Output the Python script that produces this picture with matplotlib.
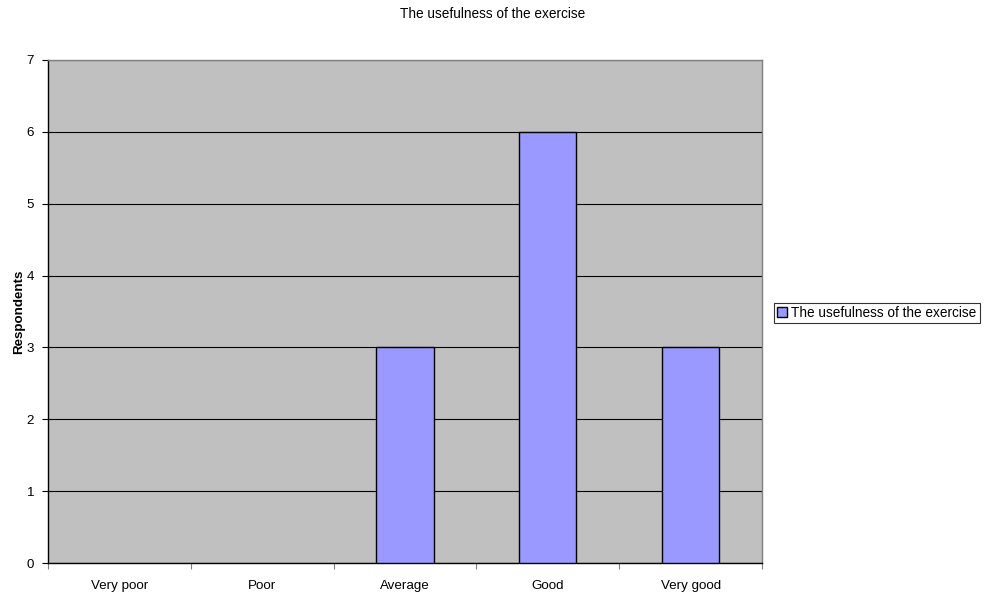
import matplotlib
matplotlib.use("Agg")
import matplotlib.pyplot as plt
import numpy as np

categories = ["Very poor", "Poor", "Average", "Good", "Very good"]
values = [0, 0, 3, 6, 3]
series_name = "The usefulness of the exercise"
title = "The usefulness of the exercise"
ylabel = "Respondents"

plt.rcParams['font.family'] = ['Liberation Sans', 'DejaVu Sans']

fig = plt.figure(figsize=(9.86, 5.94), dpi=100)
ax = fig.add_axes([48/986, 31/594, 714/986, 503/594])
ax.set_facecolor('#C0C0C0')

x = np.arange(len(categories))
bars = ax.bar(x, values, width=0.4, color='#9999FF', edgecolor='black', linewidth=1.0,
              label=series_name, zorder=3)

ax.set_xlim(-0.5, len(categories) - 0.5)
ax.set_ylim(0, 7)
ax.set_yticks(range(0, 8))
ax.yaxis.grid(True, color='black', linewidth=0.8, zorder=1)
ax.set_axisbelow(True)

ax.set_xticks(np.arange(-0.5, len(categories) + 0.5, 1))
ax.set_xticklabels([])
ax.set_xticks(x, minor=True)
ax.set_xticklabels(categories, minor=True)
ax.tick_params(axis='x', which='minor', length=0, pad=12, labelsize=9.6)
ax.tick_params(axis='x', which='major', length=4, direction='out', color='#808080')
ax.tick_params(axis='y', length=4, direction='out', labelsize=9.6, pad=6)

for s in ['left', 'bottom']:
    ax.spines[s].set_color('black')
    ax.spines[s].set_linewidth(1.0)
for s in ['top', 'right']:
    ax.spines[s].set_color('#808080')
    ax.spines[s].set_linewidth(1.0)

ax.set_ylabel(ylabel, fontsize=9.6, fontweight='bold', labelpad=1)
fig.text(0.5, 1 - 14/594, title, ha='center', va='center', fontsize=9.8)

leg = ax.legend(loc='center left', bbox_to_anchor=((774 - 48)/714, (594 - 313 - 31)/503),
                fontsize=9.8, frameon=True, fancybox=False, edgecolor='black',
                handlelength=0.7, handleheight=0.7, handletextpad=0.3,
                borderpad=0.25, borderaxespad=0)
leg.get_frame().set_linewidth(0.8)

# hide zero-height bars (drawn as flat outlines otherwise)
for b, v in zip(bars, values):
    if v == 0:
        b.set_linewidth(0)

fig.savefig("out.png", dpi=100)
